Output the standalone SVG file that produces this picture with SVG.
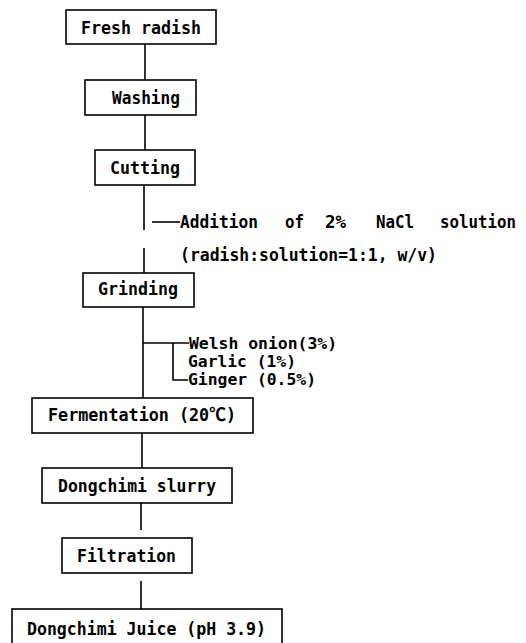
<svg xmlns="http://www.w3.org/2000/svg" width="526" height="643" viewBox="0 0 526 643">
<style>
.box{fill:#fff;stroke:#000;stroke-width:1.6}
.ln{stroke:#000;stroke-width:1.6;fill:none}
text{font-family:"DejaVu Sans Mono","Liberation Mono","Noto Sans CJK JP",monospace;font-size:18px;font-weight:bold;fill:#000}
.sp{font-size:16px}
</style>
<rect width="526" height="643" fill="#fff"/>
<g id="connectors">
<line class="ln" x1="145" y1="44" x2="145" y2="80"/>
<line class="ln" x1="145" y1="115" x2="145" y2="150"/>
<line class="ln" x1="144" y1="185" x2="144" y2="230"/>
<line class="ln" x1="144" y1="248" x2="144" y2="273"/>
<line class="ln" x1="152" y1="222" x2="180" y2="222"/>
<line class="ln" x1="143" y1="307" x2="143" y2="398"/>
<line class="ln" x1="143" y1="343" x2="189" y2="343"/>
<polyline class="ln" points="173,343 173,380 188,380"/>
<line class="ln" x1="142" y1="433" x2="142" y2="468"/>
<line class="ln" x1="141" y1="503" x2="141" y2="530"/>
<line class="ln" x1="141" y1="581" x2="141" y2="609"/>
</g>
<g id="fresh-radish"><rect class="box" x="66" y="10" width="150" height="34"/><text x="81" y="34" textLength="120" lengthAdjust="spacingAndGlyphs">Fresh radish</text></g>
<g id="washing"><rect class="box" x="85" y="80" width="111" height="35"/><text x="112" y="104" textLength="68" lengthAdjust="spacingAndGlyphs">Washing</text></g>
<g id="cutting"><rect class="box" x="95" y="150" width="100" height="35"/><text x="110" y="174" textLength="70" lengthAdjust="spacingAndGlyphs">Cutting</text></g>
<g id="nacl">
<text x="180" y="228" textLength="78" lengthAdjust="spacingAndGlyphs">Addition</text>
<text x="285" y="228" textLength="19" lengthAdjust="spacingAndGlyphs">of</text>
<text x="325" y="228" textLength="21" lengthAdjust="spacingAndGlyphs">2%</text>
<text x="376" y="228" textLength="38" lengthAdjust="spacingAndGlyphs">NaCl</text>
<text x="440" y="228" textLength="76" lengthAdjust="spacingAndGlyphs">solution</text>
<text x="180" y="261" textLength="257" lengthAdjust="spacingAndGlyphs">(radish:solution=1:1, w/v)</text>
</g>
<g id="grinding"><rect class="box" x="83" y="273" width="111" height="34"/><text x="98" y="295" textLength="80" lengthAdjust="spacingAndGlyphs">Grinding</text></g>
<g id="spices">
<text class="sp" x="189" y="349" textLength="148" lengthAdjust="spacingAndGlyphs">Welsh onion(3%)</text>
<text class="sp" x="188" y="367" textLength="108" lengthAdjust="spacingAndGlyphs">Garlic (1%)</text>
<text class="sp" x="188" y="385" textLength="128" lengthAdjust="spacingAndGlyphs">Ginger (0.5%)</text>
</g>
<g id="fermentation"><rect class="box" x="32" y="398" width="221" height="35"/><text x="48" y="421" textLength="188" lengthAdjust="spacingAndGlyphs">Fermentation (20℃)</text></g>
<g id="slurry"><rect class="box" x="42" y="468" width="190" height="35"/><text x="58" y="492" textLength="158" lengthAdjust="spacingAndGlyphs">Dongchimi slurry</text></g>
<g id="filtration"><rect class="box" x="62" y="538" width="130" height="35"/><text x="77" y="562" textLength="99" lengthAdjust="spacingAndGlyphs">Filtration</text></g>
<g id="juice"><rect class="box" x="12" y="609" width="270" height="45"/><text x="27" y="635" textLength="239" lengthAdjust="spacingAndGlyphs">Dongchimi Juice (pH 3.9)</text></g>
</svg>
